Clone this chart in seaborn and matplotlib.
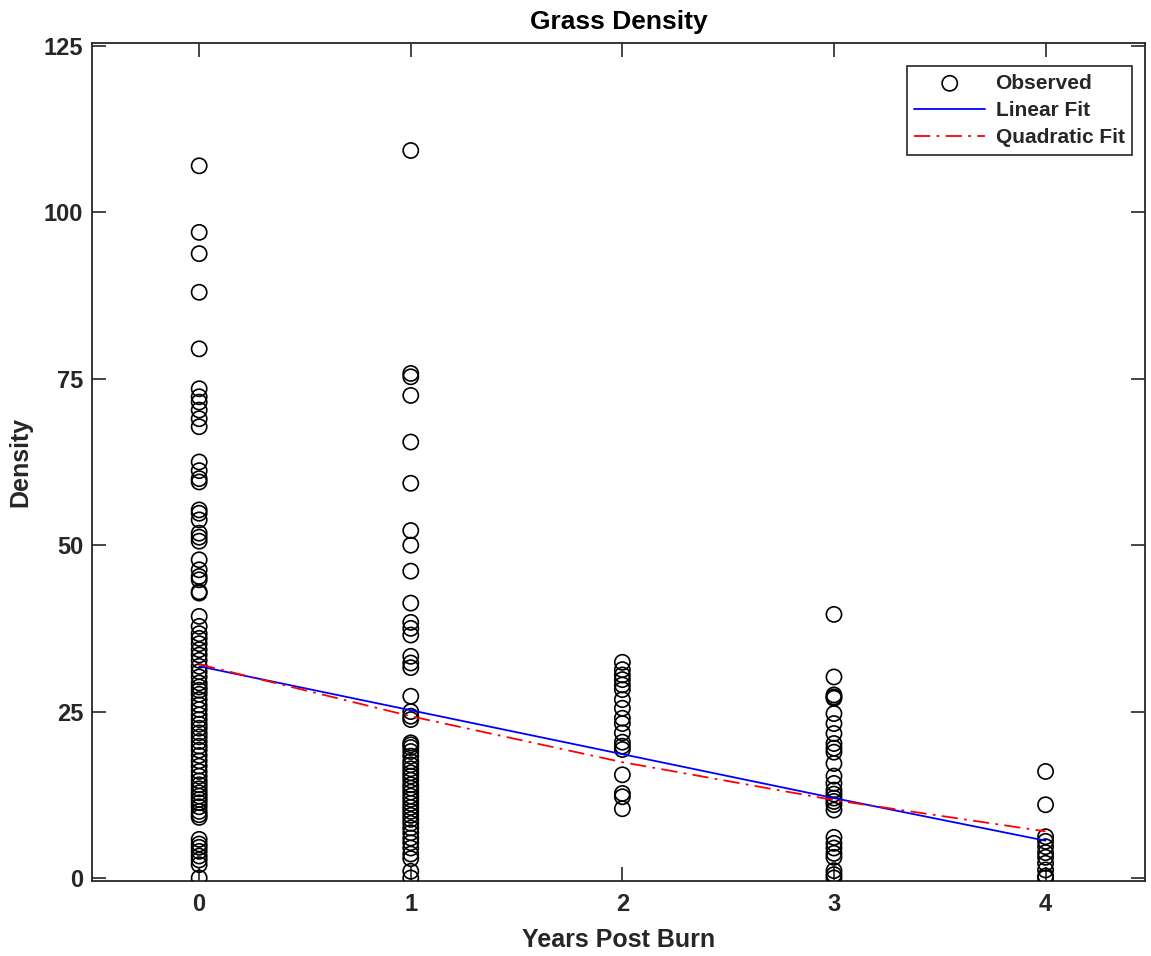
import numpy as np
import pandas as pd
import matplotlib
matplotlib.use("Agg")
import matplotlib.pyplot as plt
import seaborn as sns

# ---- data ----
years_levels = [0, 1, 2, 3, 4]
density_y0 = [107, 97, 93.8, 88, 79.5, 73.5, 72.3, 71.5, 70.3, 69, 67.8, 62.5, 61.2, 60, 59.5,
              55.3, 54.8, 53.8, 51.8, 51.2, 50.6, 47.8, 46.3, 45.3, 44.8, 43, 42.8, 39.3, 37.8,
              36.7, 36, 35.2, 34.3, 33.5, 32.7, 31.8, 31, 30.2, 29.3, 28.7, 28.2, 27.6, 26.8, 26,
              25.3, 24.5, 23.8, 23.1, 22.5, 21.8, 21.2, 20.5, 19.8, 19.2, 18.4, 17.6, 16.8, 16,
              15.3, 14.6, 14, 13.4, 12.8, 12.3, 11.8, 11.3, 10.7, 10, 9.5, 9.1, 5.8, 5.1, 4.6, 4,
              3.3, 2.7, 2, 0]
density_y1 = [109.3, 75.8, 75.3, 72.5, 65.5, 59.3, 52.2, 50, 46.1, 41.3, 38.4, 37.5, 36.5, 33.3,
              32.3, 31.6, 27.3, 25, 24.3, 23.8, 20.3, 20, 19.6, 19, 18.3, 17.5, 17, 16.4, 15.8,
              15.3, 14.7, 14, 13.5, 12.9, 12.3, 11.8, 11.2, 10.6, 10, 9.4, 8.8, 8.2, 7.5, 6.8, 6,
              5.3, 4.5, 3.6, 2.9, 1, 0]
density_y2 = [32.4, 31.3, 30.5, 29.8, 29.0, 28.3, 26.8, 25.5, 24.0, 23.2, 21.8, 20.4, 19.8, 19.3,
              15.5, 12.7, 12.2, 10.4]
density_y3 = [39.6, 30.2, 27.5, 27.2, 27.0, 24.7, 23.2, 21.7, 20.2, 19.5, 18.9, 17.2, 15.3, 14.2,
              13.2, 12.6, 12, 11.5, 11, 10.2, 6.1, 5.2, 4.5, 3.7, 3.1, 1.1, 0.5, 0]
density_y4 = [16, 11, 6.2, 5.5, 4.7, 3.8, 3.1, 2.2, 1.2, 0.3, 0]

linear_fit = [31.8, 25.2, 18.6, 12.0, 5.6]
quadratic_fit = [32.1, 24.3, 17.4, 11.7, 7.0]

x_ticks = [0, 1, 2, 3, 4]
y_ticks = [0, 25, 50, 75, 100, 125]

# ---- build tables ----
groups = [density_y0, density_y1, density_y2, density_y3, density_y4]
obs = pd.DataFrame({
    "Years": np.concatenate([[yr] * len(g) for yr, g in zip(years_levels, groups)]),
    "Density": np.concatenate(groups),
})
fits = pd.DataFrame({"Years": years_levels, "Linear": linear_fit, "Quadratic": quadratic_fit})

sns.set_theme(style="white")
plt.rcParams["font.family"] = ["Liberation Sans", "DejaVu Sans"]

fig = plt.figure(figsize=(11.51, 9.56), dpi=100)
ax = fig.add_axes([0.0802, 0.0785, 0.9146, 0.8765])

gray = "#262626"
sns.scatterplot(data=obs, x="Years", y="Density", ax=ax, marker="o", s=120,
                facecolors="none", edgecolor="black", linewidth=1.2, label="Observed", zorder=3)
sns.lineplot(data=fits, x="Years", y="Linear", ax=ax, color="blue", linewidth=1.3,
             label="Linear Fit", zorder=4)
sns.lineplot(data=fits, x="Years", y="Quadratic", ax=ax, color="red", linewidth=1.3,
             label="Quadratic Fit", zorder=4)
ax.lines[-1].set_linestyle((0, (9, 3.5, 1.5, 3.5)))

ax.set_xlim(-0.505, 4.47)
ax.set_ylim(-0.45, 125.45)
ax.set_xticks(x_ticks)
ax.set_yticks(y_ticks)
ax.set_xticklabels([str(t) for t in x_ticks], fontsize=17, fontweight="bold", color=gray)
ax.set_yticklabels([str(t) for t in y_ticks], fontsize=17, fontweight="bold", color=gray)
ax.tick_params(axis="both", direction="in", length=10, width=1.2, color=gray, top=True,
               right=True, bottom=True, left=True)
ax.tick_params(axis="x", pad=9)
ax.tick_params(axis="y", pad=6.5)
for sp in ax.spines.values():
    sp.set_visible(True)
    sp.set_color(gray)
    sp.set_linewidth(1.3)

ax.set_xlabel("Years Post Burn", fontsize=18, fontweight="bold", color=gray, labelpad=8)
ax.set_ylabel("Density", fontsize=18, fontweight="bold", color=gray, labelpad=8)
ax.set_title("Grass Density", fontsize=19, fontweight="bold", color="black", pad=10)

handles, labels = ax.get_legend_handles_labels()
leg = ax.legend(handles, labels, loc="upper right", bbox_to_anchor=(0.9875, 0.972),
                prop={"size": 15, "weight": "bold"}, frameon=True, fancybox=False,
                edgecolor=gray, framealpha=1, handlelength=3.4, borderpad=0.35,
                labelspacing=0.4, handletextpad=0.5, borderaxespad=0)
leg.get_frame().set_linewidth(1.2)

fig.savefig("out.png", dpi=100)
